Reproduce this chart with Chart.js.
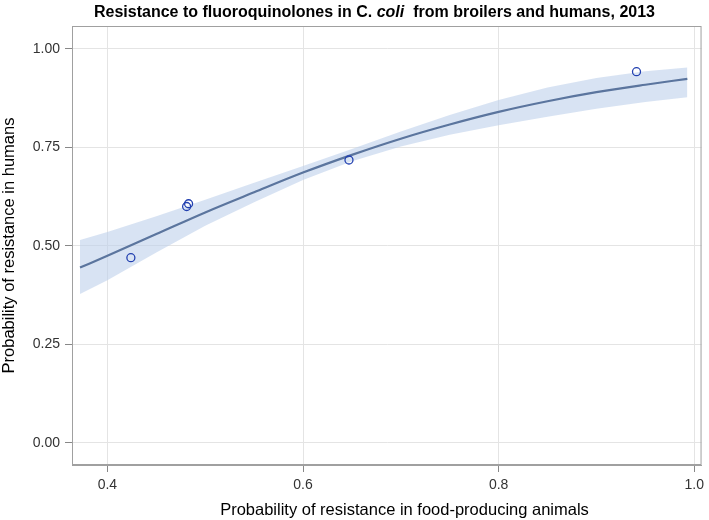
<!DOCTYPE html>
<html>
<head>
<meta charset="utf-8">
<script src="https://cdn.jsdelivr.net/npm/chart.js@4/dist/chart.umd.min.js"></script>
<style>
  body { margin: 0; background: #fff; }
  #wrap { position: relative; width: 709px; height: 520px; }
  #title { position: absolute; left: 0; width: 749px; top: 3px; text-align: center;
           font: bold 16px "Liberation Sans", Arial, sans-serif; color: #000; white-space: nowrap; }
  #xtitle { position: absolute; left: 0; width: 809px; top: 500px; text-align: center;
           font: 16.5px "Liberation Sans", Arial, sans-serif; color: #000; white-space: nowrap; }
</style>
</head>
<body>
<div id="wrap">
  <canvas id="chart-area" width="709" height="520"></canvas>
  <div id="title">Resistance to fluoroquinolones in C. <i>coli</i>&nbsp; from broilers and humans, 2013</div>
  <div id="xtitle">Probability of resistance in food-producing animals</div>
</div>
<script>
// observed points (food-producing animals vs humans)
var obsAnimals = [0.424, 0.481, 0.483, 0.647, 0.941];
var obsHumans = [0.470, 0.600, 0.607, 0.718, 0.942];

// fitted curve and its confidence band
var fitX = [0.372, 0.40, 0.45, 0.50, 0.55, 0.60, 0.65, 0.70, 0.75, 0.80, 0.85, 0.90, 0.95, 0.993];
var fitY = [0.445, 0.475, 0.530, 0.585, 0.636, 0.686, 0.731, 0.772, 0.808, 0.840, 0.867, 0.890, 0.909, 0.924];
var bandUpper = [0.515, 0.535, 0.575, 0.617, 0.660, 0.703, 0.746, 0.790, 0.832, 0.870, 0.902, 0.926, 0.943, 0.953];
var bandLower = [0.378, 0.413, 0.483, 0.551, 0.611, 0.667, 0.715, 0.752, 0.782, 0.806, 0.828, 0.848, 0.865, 0.877];

var xTicks = [0.4, 0.6, 0.8, 1.0];
var yTicks = [0.00, 0.25, 0.50, 0.75, 1.00];

function pairs(xs, ys) {
	var out = [];
	for (var i = 0; i < xs.length; i++) out.push({x: xs[i], y: ys[i]});
	return out;
}

var frame = {
	id: 'frame',
	afterDraw: function (chart) {
		var a = chart.chartArea, ctx = chart.ctx;
		ctx.save();
		ctx.strokeStyle = '#a0a0a0';
		ctx.lineWidth = 1;
		ctx.strokeRect(a.left + 0.5, a.top + 0.5, a.right - a.left - 1, a.bottom - a.top - 1);
		ctx.restore();
	}
};

Chart.defaults.font.family = '"Liberation Sans", Arial, sans-serif';

var config = {
	type: 'scatter',
	data: {
		datasets: [
			{
				type: 'line',
				data: pairs(fitX, bandUpper),
				borderWidth: 0,
				pointRadius: 0,
				backgroundColor: 'rgba(190,208,235,0.6)',
				fill: '+1',
				order: 3
			},
			{
				type: 'line',
				data: pairs(fitX, bandLower),
				borderWidth: 0,
				pointRadius: 0,
				fill: false,
				order: 3
			},
			{
				type: 'line',
				data: pairs(fitX, fitY),
				borderColor: '#5b759e',
				borderWidth: 2.2,
				pointRadius: 0,
				fill: false,
				cubicInterpolationMode: 'monotone',
				order: 2
			},
			{
				data: pairs(obsAnimals, obsHumans),
				pointStyle: 'circle',
				pointRadius: 4,
				borderColor: '#2240b0',
				borderWidth: 1.3,
				backgroundColor: 'rgba(0,0,0,0)',
				order: 1
			}
		]
	},
	options: {
		responsive: false,
		animation: false,
		layout: { padding: { top: 26, right: 2, left: 0, bottom: 0 } },
		plugins: { legend: { display: false }, tooltip: { enabled: false } },
		scales: {
			x: {
				type: 'linear',
				min: 0.3638,
				max: 1.0075,
				afterBuildTicks: function (s) { s.ticks = xTicks.map(function (v) { return {value: v}; }); },
				afterFit: function (s) { s.height = 55; },
				ticks: {
					color: '#333',
					font: { size: 14 },
					padding: 5,
					maxRotation: 0,
					callback: function (v) { return v.toFixed(1); }
				},
				grid: { color: '#e4e4e4', tickColor: '#888', tickLength: 7 },
				border: { color: '#a0a0a0' }
			},
			y: {
				type: 'linear',
				min: -0.056,
				max: 1.058,
				afterBuildTicks: function (s) { s.ticks = yTicks.map(function (v) { return {value: v}; }); },
				afterFit: function (s) { s.width = 72; },
				ticks: {
					color: '#333',
					font: { size: 14 },
					padding: 5,
					callback: function (v) { return v.toFixed(2); }
				},
				grid: { color: '#e4e4e4', tickColor: '#888', tickLength: 7 },
				border: { color: '#a0a0a0' },
				title: {
					display: true,
					text: 'Probability of resistance in humans',
					color: '#000',
					font: { size: 16.5 },
					padding: { top: 0, bottom: 0 }
				}
			}
		}
	},
	plugins: [frame]
};

var ctx = document.getElementById('chart-area').getContext('2d');
window.myChart = new Chart(ctx, config);
</script>
</body>
</html>
